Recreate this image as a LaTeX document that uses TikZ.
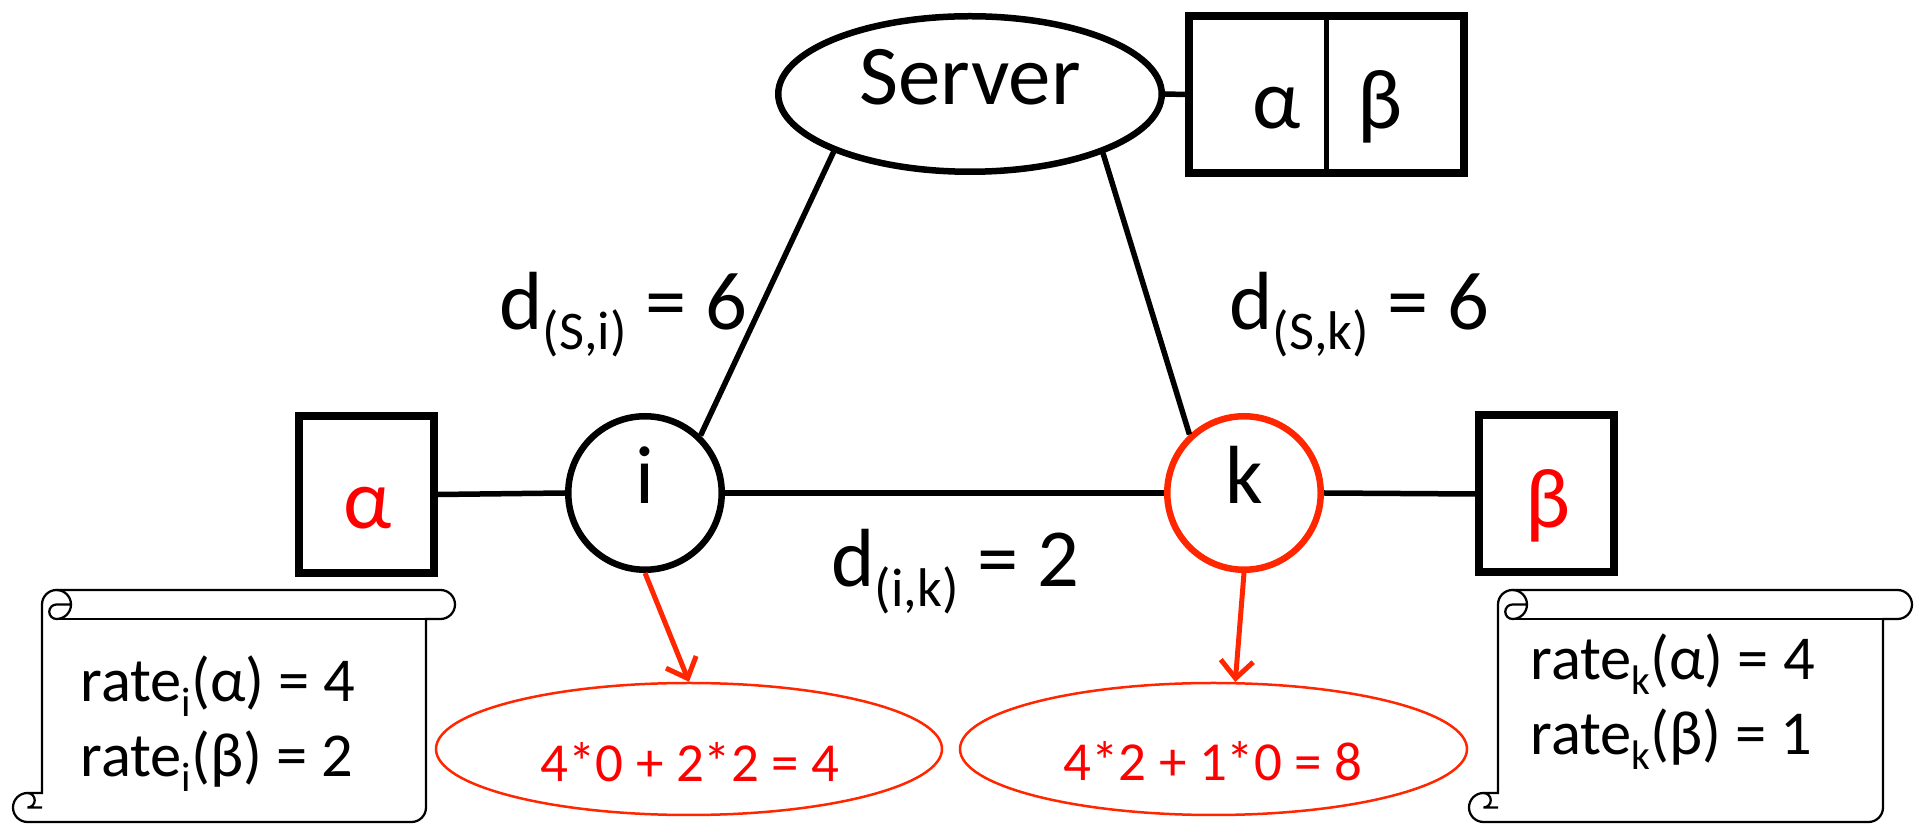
\documentclass[tikz,border=0pt]{standalone}
\usepackage{fontspec}
\setmainfont{Carlito}
\usepackage{graphicx}
\usetikzlibrary{arrows.meta,shapes.geometric}
\definecolor{edgered}{RGB}{255,38,0}
\definecolor{textred}{RGB}{255,0,0}
% lowered, reduced subscript
\newcommand\lowsub[1]{\raisebox{-0.24em}{\scalebox{0.66}{#1}}}
% horizontal scroll: #1 left, #2 top, #3 right, #4 bottom (y measured downwards)
\newcommand\scrollsheet[4]{%
  \filldraw[scrolledge,fill=white]
    ({#1+29},{-(#2+14.5)}) arc[start angle=180,end angle=90,radius=14.5]
    -- ({#3-14.5},{-#2}) arc[start angle=90,end angle=-90,radius=14.5]
    -- ({#3-29},{-(#2+29)}) -- ({#3-29},{-(#4-14.5)})
    arc[start angle=0,end angle=-90,radius=14.5]
    -- ({#1+14.5},{-#4}) arc[start angle=-90,end angle=-270,radius=14.5]
    -- ({#1+29},{-(#4-29)}) -- cycle;
  \draw[scrolledge] ({#3-29},{-(#2+29)}) -- ({#1+43.5},{-(#2+29)});
  \draw[scrolledge] ({#1+43.5},{-#2}) arc[start angle=90,end angle=-90,radius=14.5]
    arc[start angle=-90,end angle=-270,radius=7.25] -- ({#1+58},{-(#2+14.5)});
  \draw[scrolledge] ({#1+14.5},{-(#4-29)}) arc[start angle=90,end angle=-90,radius=7.25]
    -- ({#1+29},{-(#4-14.5)});
}
\begin{document}
\begin{tikzpicture}[x=0.4pt,y=0.4pt,
  link/.style={line width=2.2pt},
  host/.style={circle,draw,line width=2.6pt,minimum size=61.4pt,inner sep=0pt,
    font=\fontsize{33}{40}\selectfont,text height=0.83em,text depth=0pt},
  cache/.style={rectangle,draw,line width=3.2pt,minimum width=54pt,
    minimum height=62.8pt,inner sep=0pt},
  greek/.style={font=\fontsize{34}{40}\selectfont,inner sep=0pt},
  dist/.style={font=\fontsize{33}{39}\selectfont,inner sep=0pt,anchor=base west},
  rates/.style={font=\fontsize{25}{30}\selectfont,inner sep=0pt,anchor=base west},
  costoval/.style={ellipse,draw=edgered,line width=1pt,minimum width=202.4pt,
    minimum height=52.8pt,inner sep=0pt},
  costtxt/.style={text=textred,font=\fontsize{22}{26}\selectfont,inner sep=0pt,anchor=base},
  pick/.style={draw=edgered,line width=2pt,-{Straight Barb[length=7pt,width=13pt]}},
  scrolledge/.style={line width=0.9pt}
]
\useasboundingbox (0,0) rectangle (1921,-824);

% rate tables
\scrollsheet{13}{590}{455}{822}
\scrollsheet{1469}{590}{1912}{822}
\node[rates] (ri1) at (80,-702) {rate\lowsub{i}(α) = 4};
\node[rates] (ri2) at (80,-777) {rate\lowsub{i}(β) = 2};
\node[rates] (rk1) at (1530,-680) {rate\lowsub{k}(α) = 4};
\node[rates] (rk2) at (1530,-755) {rate\lowsub{k}(β) = 1};

% server and its store
\node[ellipse,draw,line width=2.6pt,minimum width=153.4pt,minimum height=62.2pt,
  inner sep=0pt,font=\fontsize{34}{40}\selectfont,text height=0.85em,text depth=0pt]
  (server) at (970,-94) {Server};
\node[cache,minimum width=110pt] (sbox) at (1326.5,-94.5) {};
\draw[line width=1.8pt] (sbox.north) -- (sbox.south);
\node[greek] (salpha) at (1277,-108) {α};
\node[greek] (sbeta) at (1380,-107) {β};

% caching nodes and their stores
\node[host] (i) at (645,-493) {i};
\node[host,draw=edgered] (k) at (1244,-493) {k};
\node[cache] (abox) at (366.5,-494.5) {};
\node[greek,text=textred] (alpha) at (368,-508) {α};
\node[cache] (bbox) at (1546.5,-494) {};
\node[greek,text=textred] (beta) at (1548,-506) {β};

% links
\draw[link] (server.east) -- (sbox.west);
\draw[link] (server.203.8) -- (i.46);
\draw[link] (server.336.2) -- (k.133.5);
\draw[link] (abox.east) -- (i.west);
\draw[link] (i.east) -- (k.west);
\draw[link] (k.east) -- (bbox.west);

% distances
\node[dist] (dsi) at (499,-330) {d\lowsub{(S,i)} = 6};
\node[dist] (dsk) at (1229,-330) {d\lowsub{(S,k)} = 6};
\node[dist] (dik) at (831,-587) {d\lowsub{(i,k)} = 2};

% costs
\node[costoval] (ci) at (689,-749) {};
\node[costoval,minimum width=202.8pt] (ck) at (1213.5,-749) {};
\node[costtxt] (cit) at (690,-782) {4*0 + 2*2 = 4};
\node[costtxt] (ckt) at (1213,-781) {4*2 + 1*0 = 8};
\draw[pick] (i.south) -- (ci.north);
\draw[pick] (k.south) -- (ck.72);
\end{tikzpicture}
\end{document}
